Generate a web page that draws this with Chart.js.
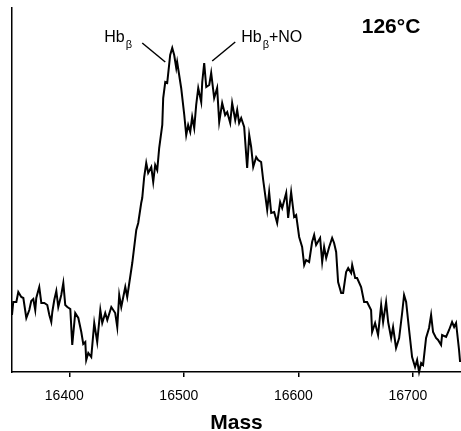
<!DOCTYPE html>
<html>
<head>
<meta charset="utf-8">
<script src="https://cdn.jsdelivr.net/npm/chart.js@4/dist/chart.umd.min.js"></script>
<style>
    html, body { margin: 0; padding: 0; background: #fff; }
    canvas { display: block; }
</style>
</head>
<body>
<canvas id="massChart" width="461" height="431"></canvas>
<script>
// ===============================
// Mass spectrum data
// ===============================

const masses = [
    16350.0, 16351.1, 16353.8, 16355.5, 16358.1, 16359.9, 16362.5, 16365.1, 16366.8, 16368.6,
    16370.3, 16371.2, 16373.8, 16375.6, 16378.2, 16380.8, 16382.6, 16384.3, 16385.2, 16386.9,
    16388.7, 16390.4, 16393.0, 16394.8, 16396.5, 16398.3, 16400.9, 16402.6, 16405.2, 16407.9,
    16410.5, 16412.2, 16414.0, 16414.8, 16416.6, 16419.2, 16421.8, 16424.4, 16427.1, 16428.8,
    16431.4, 16433.2, 16436.7, 16440.1, 16441.9, 16443.6, 16445.4, 16448.9, 16450.6, 16452.4,
    16455.0, 16458.5, 16460.2, 16462.8, 16463.7, 16465.4, 16467.2, 16468.9, 16471.6, 16473.3,
    16475.0, 16476.8, 16478.5, 16481.2, 16482.0, 16483.8, 16485.5, 16488.1, 16489.9, 16491.6,
    16493.4, 16494.2, 16497.7, 16500.4, 16502.1, 16503.8, 16505.6, 16507.3, 16509.1, 16510.8,
    16512.6, 16515.2, 16516.1, 16517.8, 16519.6, 16522.2, 16523.9, 16526.5, 16529.1, 16530.9,
    16533.5, 16536.1, 16537.9, 16540.5, 16542.2, 16544.9, 16546.6, 16548.3, 16550.1, 16552.7,
    16555.3, 16557.1, 16558.8, 16560.6, 16563.2, 16564.9, 16567.5, 16569.3, 16572.8, 16574.5,
    16576.3, 16578.9, 16581.5, 16584.1, 16585.9, 16589.4, 16591.1, 16593.7, 16596.3, 16598.1,
    16600.7, 16603.3, 16605.1, 16606.8, 16609.4, 16612.0, 16613.8, 16615.5, 16619.0, 16620.8,
    16622.5, 16624.3, 16626.9, 16629.5, 16631.2, 16633.0, 16634.7, 16637.4, 16639.1, 16641.7,
    16643.5, 16646.1, 16647.0, 16649.6, 16651.3, 16654.8, 16657.4, 16660.0, 16663.5, 16664.4,
    16667.0, 16669.6, 16672.3, 16674.0, 16676.6, 16678.4, 16681.0, 16682.7, 16685.3, 16688.0,
    16690.6, 16692.3, 16694.1, 16696.7, 16699.3, 16701.9, 16703.7, 16705.4, 16707.2, 16708.9,
    16711.5, 16714.1, 16715.9, 16717.6, 16720.2, 16722.0, 16724.6, 16725.5, 16729.0, 16731.6,
    16734.2, 16736.0, 16737.7, 16740.3, 16741.2
];

const intensity = [
    57, 70, 70, 80, 75, 74, 54, 62, 71, 73,
    62, 74, 85, 69, 69, 67, 57, 50, 60, 72,
    81, 65, 77, 89, 67, 65, 63, 27, 59, 54,
    40, 28, 30, 12, 19, 15, 49, 30, 62, 49,
    59, 52, 65, 59, 45, 77, 65, 85, 75, 89,
    109, 142, 149, 169, 174, 195, 209, 199, 205, 190,
    207, 202, 224, 247, 274, 290, 289, 317, 324, 317,
    304, 310, 284, 257, 237, 247, 240, 255, 244, 267,
    284, 270, 290, 309, 285, 287, 299, 274, 284, 250,
    269, 257, 260, 249, 269, 252, 262, 249, 254, 245,
    204, 237, 225, 205, 215, 212, 210, 192, 162, 180,
    159, 160, 149, 170, 164, 179, 154, 180, 155, 157,
    135, 125, 107, 112, 110, 130, 137, 127, 134, 110,
    125, 114, 125, 134, 129, 120, 90, 79, 79, 100,
    104, 99, 107, 94, 94, 85, 70, 70, 62, 40,
    49, 37, 67, 50, 70, 50, 34, 45, 24, 34,
    59, 77, 70, 42, 15, 5, 12, 0, 9, 7,
    34, 44, 57, 40, 34, 32, 27, 37, 35, 42,
    50, 45, 49, 22, 10
];

const xTickValues = [16400, 16500, 16600, 16700];
const xRange = [16350, 16742];
const yRange = [0, 364];

const temperatureLabel = "126°C";
const axisTitle = "Mass";

// peak labels, anchored in data units
const peakLabels = [
    { main: "Hb", sub: "β", rest: "", textAt: [16430.5, 330], line: [[16463.7, 329], [16483.8, 310]] },
    { main: "Hb", sub: "β", rest: "+NO", textAt: [16550.1, 330], line: [[16524.8, 311], [16544.9, 330]] }
];

const fontFamily = "'Liberation Sans', Arial, Helvetica, sans-serif";

// ===============================
// Annotation plugin
// ===============================

const annotationPlugin = {

    id: "peakAnnotations",

    afterDraw(chart) {

        let ctx = chart.ctx;
        let xs = chart.scales.x;
        let ys = chart.scales.y;

        ctx.save();
        ctx.strokeStyle = "#000";
        ctx.fillStyle = "#000";
        ctx.lineWidth = 1.5;
        ctx.textBaseline = "alphabetic";

        peakLabels.forEach(p => {

            ctx.beginPath();
            ctx.moveTo(xs.getPixelForValue(p.line[0][0]), ys.getPixelForValue(p.line[0][1]));
            ctx.lineTo(xs.getPixelForValue(p.line[1][0]), ys.getPixelForValue(p.line[1][1]));
            ctx.stroke();

            let tx = xs.getPixelForValue(p.textAt[0]);
            let ty = ys.getPixelForValue(p.textAt[1]);

            ctx.textAlign = "left";
            ctx.font = "16px " + fontFamily;
            ctx.fillText(p.main, tx, ty);
            tx += ctx.measureText(p.main).width + 1;

            ctx.font = "11px " + fontFamily;
            ctx.fillText(p.sub, tx, ty + 6);
            tx += ctx.measureText(p.sub).width;

            ctx.font = "16px " + fontFamily;
            ctx.fillText(p.rest, tx, ty);

        });

        // temperature, top right
        ctx.font = "bold 21px " + fontFamily;
        ctx.textAlign = "right";
        ctx.fillText(temperatureLabel, xs.getPixelForValue(16706.5), ys.getPixelForValue(339));

        ctx.restore();

    }

};

// ===============================
// Chart
// ===============================

let ctx = document.getElementById("massChart").getContext("2d");

let spectrumChart = new Chart(ctx, {

    type: "scatter",

    data: {

        datasets: [{

            data: masses.map((m, i) => ({ x: m, y: intensity[i] })),

            showLine: true,

            borderColor: "#000",

            borderWidth: 2,

            pointRadius: 0,

            tension: 0,

            clip: false

        }]

    },

    options: {

        responsive: false,

        animation: false,

        layout: {

            padding: { left: 12, top: 8, right: 0, bottom: 0 }

        },

        plugins: {

            legend: { display: false },

            tooltip: { enabled: false }

        },

        scales: {

            x: {

                type: "linear",

                min: xRange[0],

                max: xRange[1],

                afterBuildTicks: scale => {
                    scale.ticks = xTickValues.map(v => ({ value: v }));
                },

                afterFit: scale => { scale.height = 59; },

                grid: {
                    drawOnChartArea: false,
                    drawTicks: true,
                    tickLength: 5,
                    color: "#000",
                    lineWidth: 1.5
                },

                border: { display: true, color: "#000", width: 1.5 },

                ticks: {
                    color: "#000",
                    padding: 11,
                    labelOffset: -5,
                    maxRotation: 0,
                    font: { family: fontFamily, size: 14 },
                    callback: v => String(v)
                },

                title: {
                    display: true,
                    text: axisTitle,
                    color: "#000",
                    font: { family: fontFamily, size: 21, weight: "bold", lineHeight: 0.7 },
                    padding: { top: 0, bottom: 0 }
                }

            },

            y: {

                min: yRange[0],

                max: yRange[1],

                afterFit: scale => { scale.width = 0; },

                grid: { display: false, drawTicks: false },

                border: { display: true, color: "#000", width: 1.5 },

                ticks: { display: false }

            }

        }

    },

    plugins: [annotationPlugin]

});
</script>
</body>
</html>
